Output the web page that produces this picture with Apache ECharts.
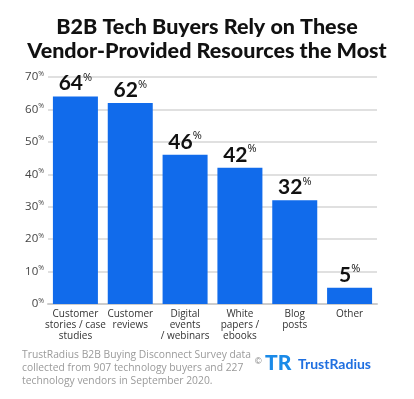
<!DOCTYPE html>
<html>
<head>
<meta charset="utf-8">
<script src="https://cdn.jsdelivr.net/npm/echarts@6/dist/echarts.min.js"></script>
<style>
  html, body { margin: 0; padding: 0; background: #fff; }
  #chart { width: 414px; height: 399px; }
</style>
</head>
<body>
<div id="chart"></div>
<script>
var categories = [
  "Customer\nstories / case\nstudies",
  "Customer\nreviews",
  "Digital\nevents\n/ webinars",
  "White\npapers /\nebooks",
  "Blog\nposts",
  "Other"
];
var shares = [64, 62, 46, 42, 32, 5];
var yTicks = [0, 10, 20, 30, 40, 50, 60, 70];

var myChart = echarts.init(document.getElementById("chart"));

var option = {
  animation: false,
  textStyle: { fontFamily: "Open Sans" },
  title: {
    text: "B2B Tech Buyers Rely on These\nVendor-Provided Resources the Most",
    left: "center",
    top: 10,
    textStyle: {
      fontFamily: "Lato",
      fontWeight: 900,
      fontSize: 21.5,
      lineHeight: 24,
      color: "#111"
    }
  },
  grid: { left: 48, right: 37, top: 77, bottom: 95 },
  xAxis: {
    type: "category",
    data: categories,
    axisLine: { lineStyle: { color: "#ccc", width: 2 } },
    axisTick: { show: false },
    axisLabel: {
      interval: 0,
      color: "#333",
      fontFamily: "Open Sans",
      fontSize: 10,
      lineHeight: 11,
      margin: 5
    }
  },
  yAxis: {
    type: "value",
    min: yTicks[0],
    max: yTicks[yTicks.length - 1],
    interval: 10,
    splitLine: { lineStyle: { color: "#d6d6d6", width: 1.5 } },
    axisLabel: {
      margin: 4,
      formatter: function (v) { return "{n|" + v + "}{p|%}"; },
      rich: {
        n: { fontFamily: "Open Sans", fontSize: 11.5, color: "#444", lineHeight: 14 },
        p: { fontFamily: "Open Sans", fontSize: 7, color: "#444", verticalAlign: "top", lineHeight: 14, padding: [0, 0, 6, 0] }
      }
    }
  },
  series: [{
    type: "bar",
    data: shares,
    barWidth: 45,
    itemStyle: { color: "#116BEB" },
    label: {
      show: true,
      position: "top",
      distance: 2,
      formatter: function (p) { return "{n|" + p.value + "}{p|%}"; },
      rich: {
        n: { fontFamily: "Lato", fontSize: 21, fontWeight: "bold", color: "#111", lineHeight: 22 },
        p: { fontFamily: "Open Sans", fontSize: 11, color: "#111", verticalAlign: "top", lineHeight: 22, padding: [0, 0, 10, 0] }
      }
    }
  }],
  graphic: [
    {
      type: "text",
      left: 22,
      top: 349,
      style: {
        text: "TrustRadius B2B Buying Disconnect Survey data\ncollected from 907 technology buyers and 227\ntechnology vendors in September 2020.",
        fontFamily: "Open Sans",
        fontSize: 10.3,
        lineHeight: 13,
        fill: "#9a9a9a"
      }
    },
    {
      type: "text",
      left: 255,
      top: 357,
      style: { text: "©", fontSize: 9, fill: "#777" }
    },
    {
      type: "text",
      left: 265,
      top: 353,
      style: { text: "TR", fontFamily: "Lato", fontWeight: 900, fontSize: 21, fill: "#1a8ae8" }
    },
    {
      type: "text",
      left: 298,
      top: 357,
      style: { text: "TrustRadius", fontFamily: "Lato", fontWeight: "bold", fontSize: 14, fill: "#1f6fe0" }
    }
  ]
};

myChart.setOption(option);
</script>
</body>
</html>
